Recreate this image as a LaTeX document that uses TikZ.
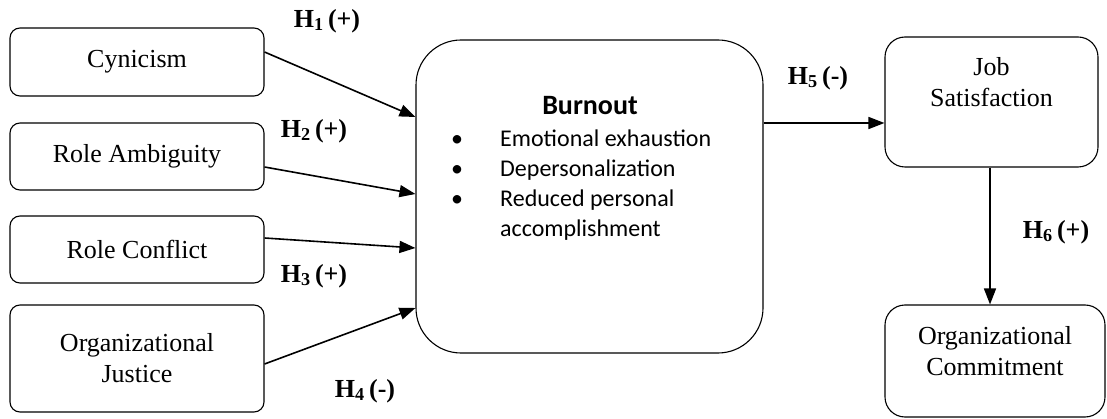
\documentclass[tikz,border=0pt]{standalone}
\usepackage{fontspec}
\setmainfont{Liberation Serif}
\newfontfamily\calfont{Carlito}
\usetikzlibrary{arrows.meta}
\begin{document}
\begin{tikzpicture}[x=1pt,y=-1pt,
  box/.style={draw, line width=1.1pt, rounded corners=10pt, align=center,
    font=\fontsize{26}{31}\selectfont, inner sep=0pt},
  txt/.style={align=center, font=\fontsize{26}{31}\selectfont, inner sep=0pt},
  hyp/.style={font=\fontsize{26}{31}\selectfont\bfseries, inner sep=0pt},
  arr/.style={line width=1.6pt, -{Triangle[length=16pt,width=12pt]}},
  bl/.style={font=\calfont\fontsize{24}{30}\selectfont, inner sep=0pt, anchor=base west}
]
\useasboundingbox (0,0) rectangle (1107,419);
% left boxes
\node[box, minimum width=254pt, minimum height=68pt] (cyn) at (137,62) {Cynicism};
\node[box, minimum width=254pt, minimum height=67pt] (ra) at (137,156.5) {Role Ambiguity};
\node[box, minimum width=254pt, minimum height=67pt] (rc) at (137,249.5) {Role Conflict};
\node[box, minimum width=254pt, minimum height=107pt] (oj) at (137,358.5) {Organizational\\Justice};
% burnout
\node[box, rounded corners=45pt, minimum width=347pt, minimum height=313pt] (burn) at (589.5,196.5) {};
\node[font=\calfont\fontsize{28}{32}\selectfont\bfseries, inner sep=0pt, anchor=base] (bt) at (590,115) {Burnout};
\node[bl, anchor=base] (b1) at (457,147) {•};
\node[bl, anchor=base] (b2) at (457,177) {•};
\node[bl, anchor=base] (b3) at (457,207) {•};
\node[bl] (l1) at (500,147) {Emotional exhaustion};
\node[bl] (l2) at (500,177) {Depersonalization};
\node[bl] (l3) at (500,207) {Reduced personal};
\node[bl] (l4) at (500,237) {accomplishment};
% right boxes
\node[box, rounded corners=20pt, minimum width=213pt, minimum height=130pt] (js) at (991.5,102) {};
\node[txt, anchor=north] (jst) at ([yshift=-21pt]js.north) {Job\\Satisfaction};
\node[box, rounded corners=20pt, minimum width=220pt, minimum height=112pt] (oc) at (995,361) {};
\node[txt, anchor=north] (oct) at ([yshift=-22pt]oc.north) {Organizational\\Commitment};
% arrows
\draw[arr] ([yshift=10pt]cyn.east) -- ([yshift=79.5pt]burn.west);
\draw[arr] ([yshift=-10.5pt]ra.east) -- ([yshift=2.5pt]burn.west);
\draw[arr] ([yshift=11.5pt]rc.east) -- ([yshift=-51.5pt]burn.west);
\draw[arr] ([yshift=-5.5pt]oj.east) -- ([yshift=-111.5pt]burn.west);
\draw[arr] ([yshift=73.5pt]burn.east) -- ([yshift=73.5pt]burn.east -| js.west);
\draw[arr] ([xshift=-1.5pt]js.south) -- ([xshift=-1.5pt]js.south |- oc.north);
% hypothesis labels
\node[hyp] (h1) at (327,21) {H\textsubscript{1}\,(+)};
\node[hyp] (h2) at (314,131) {H\textsubscript{2}\,(+)};
\node[hyp] (h3) at (314,276) {H\textsubscript{3}\,(+)};
\node[hyp] (h4) at (365,391) {H\textsubscript{4}\,(-)};
\node[hyp] (h5) at (818,78) {H\textsubscript{5}\,(-)};
\node[hyp] (h6) at (1056,232) {H\textsubscript{6}\,(+)};
\end{tikzpicture}
\end{document}
